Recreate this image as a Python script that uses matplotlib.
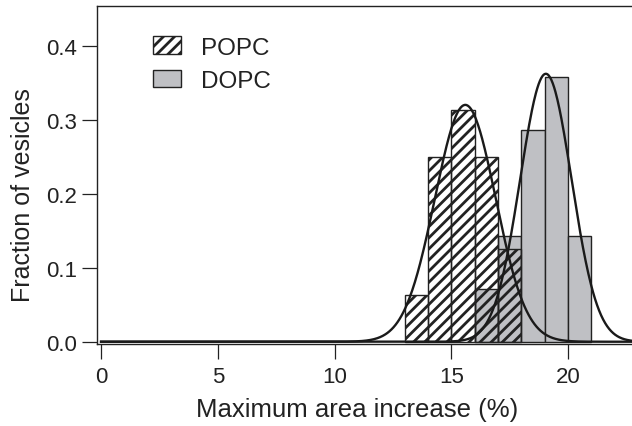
import numpy as np
import matplotlib
matplotlib.use("Agg")
import matplotlib.pyplot as plt
from matplotlib.patches import Patch

# -------- DATA --------
popc_bins = [13, 14, 15, 16, 17]
popc_frac = [0.0625, 0.25, 0.3125, 0.25, 0.125]

dopc_bins = [16, 17, 18, 19, 20]
dopc_frac = [0.071, 0.143, 0.286, 0.357, 0.143]

# gaussian fits (mean, sd, peak height)
popc_fit = (15.6, 1.3, 0.32)
dopc_fit = (19.05, 1.1, 0.362)

x_ticks = [0, 5, 10, 15, 20]
y_ticks = [0.0, 0.1, 0.2, 0.3, 0.4]

plt.rcParams["font.family"] = ["Liberation Sans", "DejaVu Sans"]
plt.rcParams["hatch.linewidth"] = 2.0

gray = "#bfc0c4"
ink = "#222222"

fig = plt.figure(figsize=(6.32, 4.27), dpi=100)
ax = fig.add_axes([0.154, 0.192, 0.846, 0.7923])

# -------- BARS --------
ax.bar(dopc_bins, dopc_frac, width=1.0, align="edge",
       color=gray, edgecolor=ink, linewidth=1.0, zorder=2)
ax.bar(popc_bins, popc_frac, width=1.0, align="edge",
       facecolor="none", edgecolor=ink, hatch="///", linewidth=1.0, zorder=3)

# -------- FIT CURVES --------
xs = np.linspace(0, 23, 800)
for mu, sd, peak in (popc_fit, dopc_fit):
    ax.plot(xs, peak * np.exp(-0.5 * ((xs - mu) / sd) ** 2),
            color="#1a1a1a", linewidth=1.7, zorder=4)

# -------- AXES --------
ax.set_xlim(-0.16, 22.74)
ax.set_ylim(-0.0031, 0.454)
ax.set_xticks(x_ticks)
ax.set_yticks(y_ticks)
ax.set_yticklabels([f"{v:.1f}" for v in y_ticks])
ax.tick_params(direction="out", length=10.5, width=0.9, labelsize=16,
               color=ink, labelcolor=ink)
ax.tick_params(axis="x", pad=5)
ax.tick_params(axis="y", pad=4)
ax.spines["right"].set_visible(False)
for s in ("left", "top", "bottom"):
    ax.spines[s].set_linewidth(1.0)
    ax.spines[s].set_color(ink)

ax.set_xlabel("Maximum area increase (%)", fontsize=18.5, color=ink)
ax.set_ylabel("Fraction of vesicles", fontsize=18, color=ink)
ax.xaxis.set_label_coords(0.486, -0.157)
ax.yaxis.set_label_coords(-0.1165, 0.443)

# -------- LEGEND --------
handles = [
    Patch(facecolor="white", edgecolor=ink, hatch="///", linewidth=1.0, label="POPC"),
    Patch(facecolor=gray, edgecolor=ink, linewidth=1.0, label="DOPC"),
]
ax.legend(handles=handles, loc="upper left", bbox_to_anchor=(0.104, 0.909),
          frameon=False, fontsize=17.5, handlelength=1.17, handleheight=0.74,
          handletextpad=0.8, labelspacing=0.45, borderaxespad=0,
          borderpad=0, labelcolor=ink)

fig.savefig("out.png", dpi=100)
